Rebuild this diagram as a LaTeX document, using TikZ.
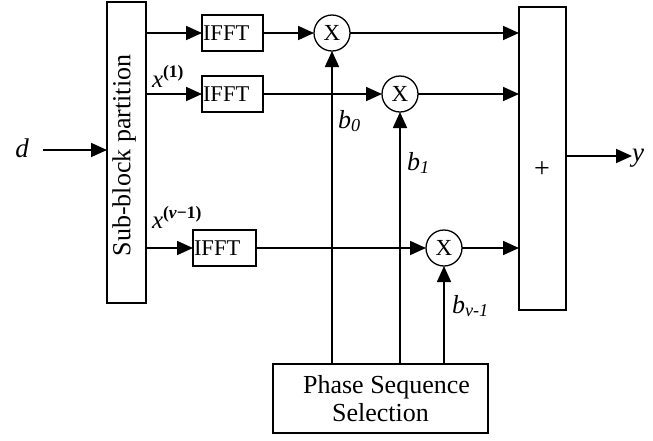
\documentclass[tikz,border=0pt]{standalone}
\usepackage{fontspec}
\setmainfont{Liberation Serif}
\usetikzlibrary{arrows.meta}
\newcommand{\ifftlabel}[1]{\makebox[#1][l]{\hspace{1pt}IFFT}}
\begin{document}
\begin{tikzpicture}[x=1pt,y=-1pt,
  every node/.style={inner sep=0pt, outer sep=0pt},
  ln/.style={line width=1.7pt},
  arr/.style={ln, -{Triangle[length=16pt,width=14pt]}},
  blk/.style={draw, line width=1.7pt, rectangle},
  ifftbox/.style={blk, minimum width=61pt, minimum height=36pt, font=\fontsize{22.5}{24}\selectfont},
  mult/.style={draw, line width=1.3pt, circle, minimum size=36pt, font=\fontsize{23}{24}\selectfont},
  lab/.style={font=\fontsize{26}{28}\selectfont, anchor=base west},
  xlab/.style={font=\fontsize{25}{28}\selectfont, anchor=base west}
]
\useasboundingbox (0,0) rectangle (653,440);

% blocks
\node[blk, minimum width=39pt, minimum height=301pt] (sub) at (126.5,152.5) {};
\node[rotate=90, font=\fontsize{26}{28}\selectfont] (subtxt) at (124,155.5) {Sub-block partition};
\node[blk, minimum width=47pt, minimum height=303pt] (sum) at (542.5,158.5) {};
\node[font=\fontsize{28}{30}\selectfont] (plus) at (542,170) {+};

\node[ifftbox] (f1) at (232.5,33) {\ifftlabel{61pt}};
\node[ifftbox] (f2) at (232.5,94) {\ifftlabel{61pt}};
\node[ifftbox, minimum width=63pt] (f3) at (224.5,248) {\ifftlabel{63pt}};

\node[mult] (m1) at (332,33) {X};
\node[mult] (m2) at (400,94) {X};
\node[mult] (m3) at (444,248) {X};

\node[blk, minimum width=215pt, minimum height=69pt, align=center,
      font=\fontsize{26}{28}\selectfont] (pss) at (380.5,398.5) {\hspace*{12pt}Phase Sequence\\Selection};

% input and output
\coordinate (din) at (43,150);
\node[anchor=base east, font=\fontsize{27}{28}\selectfont\itshape] (dlab) at (29,157) {d};
\draw[arr] (din) -- (din -| sub.west);
\coordinate (yout) at (632,156);
\draw[arr] (sum.east |- yout) -- (yout);
\node[anchor=base west, font=\fontsize{27}{28}\selectfont\itshape] (ylab) at (632,161) {y};

% rows
\draw[arr] (sub.east |- f1.west) -- (f1.west);
\draw[arr] (sub.east |- f2.west) -- (f2.west);
\draw[arr] (sub.east |- f3.west) -- (f3.west);
\draw[arr] (f1.east) -- (m1.west);
\draw[arr] (f2.east) -- (m2.west);
\draw[arr] (f3.east) -- (m3.west);
\draw[arr] (m1.east) -- (m1.east -| sum.west);
\draw[arr] (m2.east) -- (m2.east -| sum.west);
\draw[arr] (m3.east) -- (m3.east -| sum.west);

% phase vectors
\draw[arr] (pss.north -| m1.south) -- (m1.south);
\draw[arr] (pss.north -| m2.south) -- (m2.south);
\draw[arr] (pss.north -| m3.south) -- (m3.south);

% labels
\node[xlab] (x1) at (152,87) {\textit{x}\textsuperscript{\textbf{(1)}}};
\node[xlab] (xv) at (152,228) {\textit{x}\textsuperscript{\textbf{(\textit{v}−1)}}};
\node[lab] (b0) at (338,128) {\textit{b\textsubscript{0}}};
\node[lab] (b1) at (407,170) {\textit{b\textsubscript{1}}};
\node[lab] (bv) at (452,313) {\textit{b\textsubscript{v-1}}};
\end{tikzpicture}
\end{document}
